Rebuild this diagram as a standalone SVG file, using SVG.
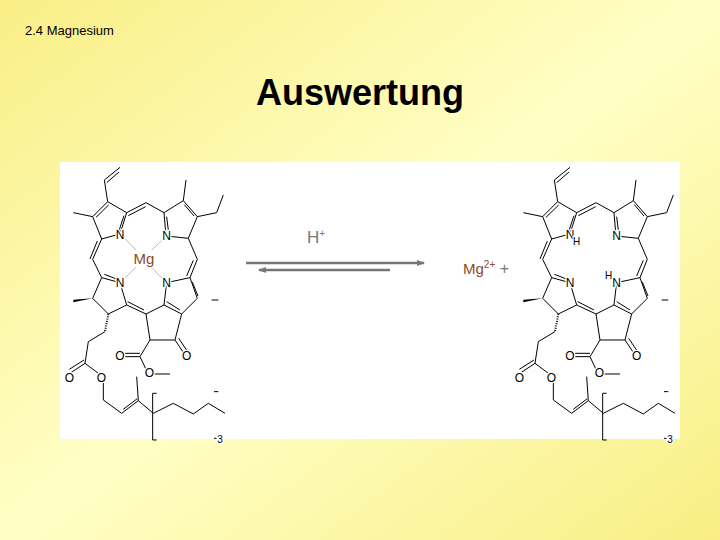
<svg xmlns="http://www.w3.org/2000/svg" width="720" height="540" viewBox="0 0 720 540">
<defs>
<linearGradient id="bg" x1="0" y1="0" x2="1" y2="1">
<stop offset="0" stop-color="#F9EE86"/>
<stop offset="0.5" stop-color="#FFFFC6"/>
<stop offset="1" stop-color="#F9EE84"/>
</linearGradient>
<marker id="ah" markerWidth="8" markerHeight="6" refX="7" refY="3" orient="auto" markerUnits="userSpaceOnUse">
<path d="M0,0 L8,3 L0,6 Z" fill="#777"/>
</marker>
<g id="skel" fill="none" stroke="#000" stroke-width="3">
<path d="M180,222 L125,237 L98,170 L143,125 L200,158 L180,222"/>
<path d="M108,172 L146,135 M192,167 L176,215"/>
<path d="M98,170 L40,158 M143,125 L133,60 L180,22 M140,68 L177,36"/>
<path d="M200,158 L258,128 L312,158 M205,167 L257,140"/>
<path d="M318,228 L312,158 L370,122 L412,170 L385,235 L318,228"/>
<path d="M320,170 L326,218 M373,134 L402,168"/>
<path d="M370,122 L378,60 M412,170 L470,158 L490,105"/>
<path d="M385,235 L412,298 L390,353 M400,301 L380,348"/>
<path d="M320,368 L390,353 L412,415 L365,462 L312,435 L320,368"/>
<path d="M397,366 L414,408 M320,425 L360,450"/>
<path d="M455,420 L475,420"/>
<path d="M312,435 L258,462 L270,540 L345,540 L365,462"/>
<path d="M345,540 L375,585 M356,535 L385,578"/>
<path d="M270,540 L240,590 L195,590 M240,580 L195,580 M240,590 L258,628 M280,642 L330,642"/>
<path d="M258,462 L200,435 M252,450 L203,425"/>
<path d="M180,368 L125,353 L98,415 L145,462 L200,435 L180,368"/>
<path d="M133,343 L172,358"/>
<path d="M125,237 L98,298 L125,353 M112,243 L90,297"/>
<path d="M135,515 L85,545 L75,610 L30,640 M72,600 L28,628 M75,610 L115,640 M130,668 L130,720 L185,760 L235,722 L230,650 M190,748 L232,716 M235,722 L280,760 L340,730 L400,762 L445,730 L495,760"/>
<path d="M290,700 L278,700 L278,840 L290,840 M462,695 L475,695 M462,835 L470,835"/>
<path d="M145,462 L135,515" stroke-dasharray="3,4" stroke-width="6"/>
</g>
</defs>
<rect width="720" height="540" fill="url(#bg)"/>
<rect x="60" y="162" width="620" height="277" fill="#fff"/>
<text x="25" y="35" font-family="Liberation Sans, Arial, sans-serif" font-size="13">2.4 Magnesium</text>
<text x="360" y="105" text-anchor="middle" font-family="Liberation Sans, Arial, sans-serif" font-size="36" font-weight="bold">Auswertung</text>

<g id="chlorophyll" transform="translate(60,160) scale(0.3333)">
<use href="#skel"/>
<polygon points="98,415 40,419 40,427" fill="#000"/>
<g stroke="#999" stroke-width="2"><path d="M195,236 L228,270 M305,242 L275,270 M195,354 L228,322 M305,354 L275,322"/></g>
<g font-family="Liberation Sans, Arial, sans-serif" font-size="36" stroke="#fff" stroke-width="8" paint-order="stroke" text-anchor="middle">
<text x="180" y="236">N</text><text x="320" y="241">N</text><text x="180" y="382">N</text><text x="320" y="382">N</text>
<text x="28" y="665">O</text><text x="124" y="665">O</text><text x="180" y="600">O</text><text x="268" y="650">O</text><text x="380" y="600">O</text>
<text x="480" y="850" font-size="30">3</text>
</g>
<text x="252" y="313" text-anchor="middle" font-family="Liberation Sans, Arial, sans-serif" font-size="45" fill="#8B4A2A">Mg</text>
</g>

<g id="pheophytin" transform="translate(510,160) scale(0.3333)">
<use href="#skel"/>
<polygon points="98,415 40,419 40,427" fill="#000"/>
<g font-family="Liberation Sans, Arial, sans-serif" font-size="36" stroke="#fff" stroke-width="8" paint-order="stroke" text-anchor="middle">
<text x="180" y="236">N</text><text x="200" y="256" font-size="30">H</text><text x="320" y="241">N</text><text x="180" y="382">N</text><text x="320" y="382">N</text><text x="296" y="358" font-size="30">H</text>
<text x="28" y="665">O</text><text x="124" y="665">O</text><text x="180" y="600">O</text><text x="268" y="650">O</text><text x="380" y="600">O</text>
<text x="480" y="850" font-size="30">3</text>
</g>
</g>

<g id="connectors" stroke="#777" stroke-width="2.5">
<line x1="246" y1="263" x2="424" y2="263" marker-end="url(#ah)"/>
<line x1="390" y1="270" x2="259" y2="270" marker-end="url(#ah)"/>
</g>
<g font-family="Liberation Sans, Arial, sans-serif">
<text x="307" y="243" font-size="17" fill="#777">H<tspan font-size="10" dy="-6">+</tspan></text>
<text x="463" y="274" font-size="15" fill="#8B4A2A">Mg<tspan font-size="10" dy="-6">2+</tspan><tspan font-size="16" dy="6" fill="#777"> +</tspan></text>
</g>
</svg>
